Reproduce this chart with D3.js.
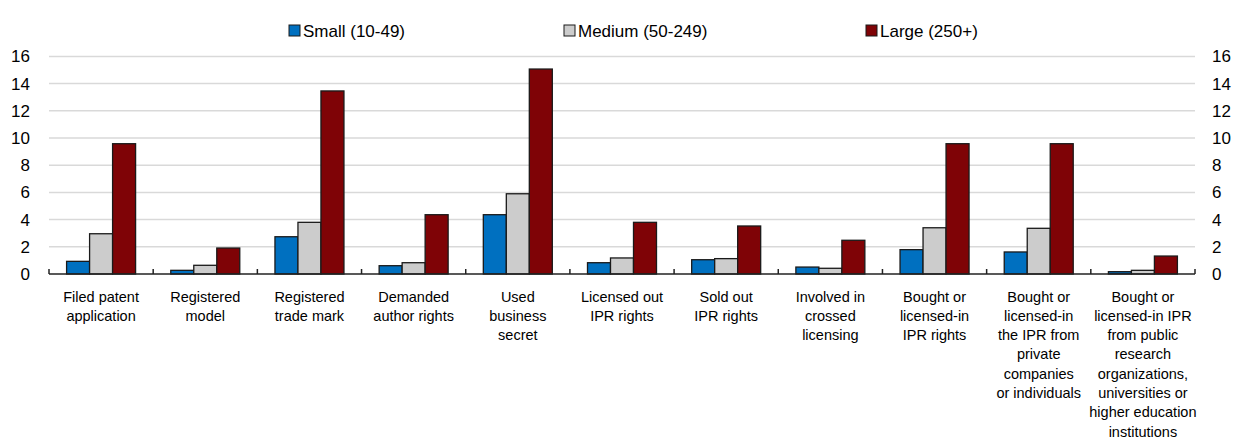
<!DOCTYPE html>
<html><head><meta charset="utf-8">
<script src="https://cdn.jsdelivr.net/npm/d3@7"></script>
<style>body{margin:0;background:#fff}svg{display:block;font-family:Arial,"Liberation Sans",sans-serif}</style>
</head><body><svg id="c" width="1235" height="439"></svg>
<script>
const categories = ["Filed patent\napplication","Registered\nmodel","Registered\ntrade mark","Demanded\nauthor rights","Used\nbusiness\nsecret","Licensed out\nIPR rights","Sold out\nIPR rights","Involved in\ncrossed\nlicensing","Bought or\nlicensed-in\nIPR rights","Bought or\nlicensed-in\nthe IPR from\nprivate\ncompanies\nor individuals","Bought or\nlicensed-in IPR\nfrom public\nresearch\norganizations,\nuniversities or\nhigher education\ninstitutions"];
const seriesNames = ["Small (10-49)","Medium (50-249)","Large (250+)"];
const small  = [0.93,0.27,2.74,0.61,4.36,0.83,1.05,0.51,1.79,1.62,0.17];
const medium = [2.96,0.64,3.80,0.83,5.90,1.18,1.13,0.42,3.40,3.36,0.27];
const large  = [9.58,1.91,13.46,4.36,15.07,3.80,3.53,2.48,9.58,9.58,1.32];
const yTicks = [0,2,4,6,8,10,12,14,16];
const colors = ["#0070c0","#cccccc","#7f0306"];

const svg = d3.select("#c");
const L=49, R=1195, T=56.4, B=274;
const y = d3.scaleLinear().domain([0,16]).range([B,T]);
const x0 = d3.scaleBand().domain(categories).range([L,R]).padding(0);
const x1 = d3.scaleBand().domain(seriesNames).range([0,x0.bandwidth()]).paddingInner(0).paddingOuter(0.765);
const data = [small,medium,large];

// gridlines
svg.append("g").selectAll("line").data(yTicks.filter(d=>d>0)).join("line")
  .attr("x1",L).attr("x2",R).attr("y1",d=>y(d)).attr("y2",d=>y(d))
  .attr("stroke","#d9d9d9").attr("stroke-width",1.5);

// y axes labels
const yl = d3.axisLeft(y).tickValues(yTicks).tickSize(0).tickPadding(0);
const gl = svg.append("g").attr("transform",`translate(30,0)`).call(yl);
gl.select(".domain").remove();
gl.selectAll("text").attr("font-size",17).attr("fill","#000").attr("font-family","Arial,'Liberation Sans',sans-serif");
const yr = d3.axisRight(y).tickValues(yTicks).tickSize(0).tickPadding(0);
const gr = svg.append("g").attr("transform",`translate(1212,0)`).call(yr);
gr.select(".domain").remove();
gr.selectAll("text").attr("font-size",17).attr("fill","#000").attr("font-family","Arial,'Liberation Sans',sans-serif");

// bars
const g = svg.append("g");
categories.forEach((c,i)=>{
  seriesNames.forEach((s,j)=>{
    g.append("rect")
      .attr("x",x0(c)+x1(s)).attr("width",x1.bandwidth())
      .attr("y",y(data[j][i])).attr("height",B-y(data[j][i]))
      .attr("fill",colors[j]).attr("stroke","#1a1a1a").attr("stroke-width",1.3);
  });
});

// x axis line and ticks
svg.append("line").attr("x1",L).attr("x2",R).attr("y1",B).attr("y2",B).attr("stroke","#222").attr("stroke-width",1.5);
const bounds = categories.map(c=>x0(c)).concat([R]);
svg.append("g").selectAll("line").data(bounds).join("line")
  .attr("x1",d=>d).attr("x2",d=>d).attr("y1",B).attr("y2",B-5)
  .attr("stroke","#222").attr("stroke-width",1.5);

// category labels
const lab = svg.append("g").attr("font-size",14.5).attr("fill","#000").attr("text-anchor","middle");
categories.forEach(c=>{
  const t = lab.append("text").attr("x",x0(c)+x0.bandwidth()/2).attr("y",301.5);
  c.split("\n").forEach((ln,k)=>{
    t.append("tspan").attr("x",x0(c)+x0.bandwidth()/2).attr("y",301.5+k*19.3).text(ln);
  });
});

// legend
const legX = [289,564,866];
const lg = svg.append("g");
seriesNames.forEach((s,j)=>{
  lg.append("rect").attr("x",legX[j]).attr("y",25).attr("width",11).attr("height",11)
    .attr("fill",colors[j]).attr("stroke","#1a1a1a").attr("stroke-width",1);
  lg.append("text").attr("x",legX[j]+14).attr("y",37).attr("font-size",17).attr("fill","#000").text(s);
});
</script></body></html>
